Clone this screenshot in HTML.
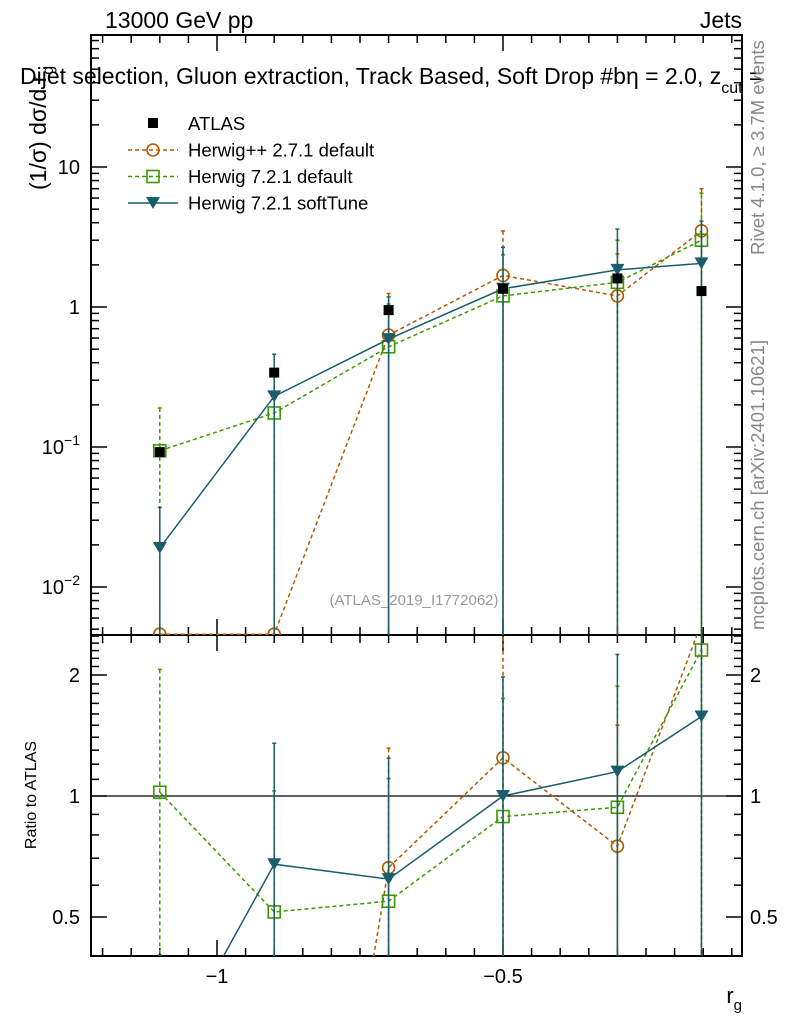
<!DOCTYPE html>
<html><head><meta charset="utf-8"><style>
html,body{margin:0;background:#fff;overflow:hidden;width:786px;height:1024px;}
svg{display:block;font-family:"Liberation Sans",sans-serif;}
</style></head><body>
<svg id="c" width="786" height="1024" viewBox="0 0 786 1024">
<text x="105" y="28" font-size="23">13000 GeV pp</text>
<text x="742" y="28" font-size="23" text-anchor="end">Jets</text>
<text x="20" y="84" font-size="23">Dijet selection, Gluon extraction, Track Based, Soft Drop #b<tspan>η</tspan> = 2.0, z<tspan font-size="16" dy="9">cut</tspan><tspan dy="-9"> =</tspan></text>
<text transform="translate(46,190) rotate(-90)" font-size="23">(1/σ) dσ/d r<tspan font-size="16" dy="7">g</tspan></text>
<text transform="translate(36,795) rotate(-90)" font-size="16" text-anchor="middle">Ratio to ATLAS</text>
<text transform="translate(764,255) rotate(-90)" font-size="18.5" fill="#888">Rivet 4.1.0, ≥ 3.7M events</text>
<text transform="translate(764,630) rotate(-90)" font-size="18.5" fill="#888">mcplots.cern.ch [arXiv:2401.10621]</text>
<text x="414" y="605" font-size="15" fill="#999" text-anchor="middle">(ATLAS_2019_I1772062)</text>
<text x="742" y="1003" font-size="22" text-anchor="end">r<tspan font-size="15" dy="7">g</tspan></text>
<g id="g"></g>
</svg>
<script>
const xs=[-1.1,-0.9,-0.7,-0.5,-0.3,-0.153];
const atlas=[0.092,0.34,0.95,1.35,1.6,1.3];
const hwpp=[0.0046,0.0046,0.63,1.68,1.2,3.5];
const hwppUp=[0.0046,0.0046,1.25,3.5,2.4,7.0];
const h72=[0.094,0.175,0.52,1.2,1.5,3.0];
const h72Up=[0.19,0.35,1.05,2.36,3.0,6.5];
const soft=[0.019,0.23,0.59,1.35,1.84,2.05];
const softUp=[0.037,0.46,1.18,2.67,3.6,4.1];
const xTicks=[-1,-0.5];const xTickLabels=["−1","−0.5"];
const yTicks=[0.01,0.1,1,10];const yTickLabels=["10^-2","10^-1","1","10"];
const rTicks=[0.5,1,2];const rTickLabels=["0.5","1","2"];

const L=91,R=742,T=35,M=635,B=956;
const X=v=>217+(v+1)*572;
const Y=v=>307-Math.log10(v)*140;
const RY=v=>796-Math.log2(v)*121;
const NS="http://www.w3.org/2000/svg";
const g=document.getElementById('g');
function el(t,a,p){const e=document.createElementNS(NS,t);for(const k in a)e.setAttribute(k,a[k]);(p||g).appendChild(e);return e;}
const defs=el('defs',{});
const c1=el('clipPath',{id:'cm'},defs);el('rect',{x:L,y:T,width:R-L,height:M-T},c1);
const c2=el('clipPath',{id:'cr'},defs);el('rect',{x:L,y:M,width:R-L,height:B-M},c2);
let f=el('rect',{x:L,y:T,width:R-L,height:M-T,fill:'none',stroke:'#000','stroke-width':2});

f=el('rect',{x:L,y:M,width:R-L,height:B-M,fill:'none',stroke:'#000','stroke-width':2});

for(let i=0;i<=23;i++){const v=-1.2+i*0.05;const x=X(v);if(x<L||x>R)continue;
 const maj=xTicks.some(t=>Math.abs(t-v)<1e-6);const len=maj?16:8;
 [[M,-1],[B,-1],[T,1],[M,1]].forEach(([y,d])=>{el('line',{x1:x,x2:x,y1:y,y2:y+d*len,stroke:'#000','stroke-width':1.5});});}
xTicks.forEach((v,i)=>{const t=el('text',{x:X(v),y:983,'font-size':20,'text-anchor':'middle'});t.textContent=xTickLabels[i];
 });
for(let d=-3;d<=1;d++)for(let m=1;m<=9;m++){const v=m*Math.pow(10,d);const y=Y(v);if(y<T||y>M)continue;
 const len=m==1?16:8;el('line',{x1:L,x2:L+len,y1:y,y2:y,stroke:'#000','stroke-width':1.5});el('line',{x1:R,x2:R-len,y1:y,y2:y,stroke:'#000','stroke-width':1.5});}
yTicks.forEach((v,i)=>{const lab=yTickLabels[i];const t=el('text',{x:80,y:Y(v)+7,'font-size':20,'text-anchor':'end'});
 if(lab.includes('^')){const [b,e]=lab.split('^');t.textContent=b;const s=el('tspan',{'font-size':14,dy:-9},t);s.textContent=e.replace('-','−');}
 else t.textContent=lab;});
const rmin=[0.4,0.6,0.7,0.8,0.9,1.1,1.2,1.3,1.4,1.5,1.6,1.7,1.8,1.9,2.1,2.2,2.3,2.4,2.5];
rmin.forEach(v=>{const y=RY(v);if(y<M||y>B)return;el('line',{x1:L,x2:L+8,y1:y,y2:y,stroke:'#000','stroke-width':1.5});el('line',{x1:R,x2:R-8,y1:y,y2:y,stroke:'#000','stroke-width':1.5});});
rTicks.forEach((v,i)=>{const y=RY(v);el('line',{x1:L,x2:L+16,y1:y,y2:y,stroke:'#000','stroke-width':1.5});el('line',{x1:R,x2:R-16,y1:y,y2:y,stroke:'#000','stroke-width':1.5});
 let t=el('text',{x:80,y:y+7,'font-size':20,'text-anchor':'end'});t.textContent=rTickLabels[i];
 t=el('text',{x:750,y:y+7,'font-size':20});t.textContent=rTickLabels[i];});
let ref=el('line',{x1:L,x2:R,y1:RY(1),y2:RY(1),stroke:'#000','stroke-width':1.2});

const series=[
 {n:'herwigpp-2-7-1',v:hwpp,up:hwppUp,c:'#b35900',dash:'4,3',m:'circle'},
 {n:'herwig-7-2-1-default',v:h72,up:h72Up,c:'#3a9a00',dash:'4,3',m:'square'},
 {n:'herwig-7-2-1-softtune',v:soft,up:softUp,c:'#1a5e6e',dash:'',m:'tri'}];
function marker(s,x,y,p){let e;
 if(s.m=='circle')e=el('circle',{cx:x,cy:y,r:6,fill:'none',stroke:s.c,'stroke-width':1.6},p);
 else if(s.m=='square')e=el('rect',{x:x-6,y:y-6,width:12,height:12,fill:'none',stroke:s.c,'stroke-width':1.6},p);
 else e=el('path',{d:`M${x-7},${y-6}L${x+7},${y-6}L${x},${y+6}Z`,fill:s.c},p);return e;}
series.forEach(s=>{
 ['main','ratio'].forEach(pan=>{
  const gp=el('g',{'clip-path':pan=='main'?'url(#cm)':'url(#cr)'});
  
  const fy=i=>pan=='main'?Y(s.v[i]):RY(s.v[i]/atlas[i]);
  const fu=i=>pan=='main'?Y(s.up[i]):RY(s.up[i]/atlas[i]);
  xs.forEach((xv,i)=>{const x=X(xv);if(s.up[i]>s.v[i]){const yb=pan=='main'?M:B;
    el('line',{x1:x,x2:x,y1:fu(i),y2:yb,stroke:s.c,'stroke-width':1.5,'stroke-dasharray':s.dash},gp);
    el('line',{x1:x-2,x2:x+2,y1:fu(i),y2:fu(i),stroke:s.c,'stroke-width':1.5},gp);}});
  el('polyline',{points:xs.map((xv,i)=>X(xv)+','+fy(i)).join(' '),fill:'none',stroke:s.c,'stroke-width':1.5,'stroke-dasharray':s.dash},gp);
  xs.forEach((xv,i)=>{const mk=marker(s,X(xv),fy(i),gp);});
 });
});
const ga=el('g',{'clip-path':'url(#cm)'});
xs.forEach((xv,i)=>{const r=el('rect',{x:X(xv)-5,y:Y(atlas[i])-5,width:10,height:10,fill:'#000'},ga);});
const lg=el('g',{});
el('rect',{x:148,y:118,width:10,height:10,fill:'#000'},lg);
let t=el('text',{x:188,y:130,'font-size':18.5},lg);t.textContent='ATLAS';
const labs=['Herwig++ 2.7.1 default','Herwig 7.2.1 default','Herwig 7.2.1 softTune'];
series.forEach((s,i)=>{const y=150+i*26.5;
 el('line',{x1:128,x2:178,y1:y,y2:y,stroke:s.c,'stroke-width':1.5,'stroke-dasharray':s.dash},lg);
 marker(s,153,y,lg);
 const tt=el('text',{x:188,y:y+6.5,'font-size':18.5},lg);tt.textContent=labs[i];
 });
</script>
</body></html>
